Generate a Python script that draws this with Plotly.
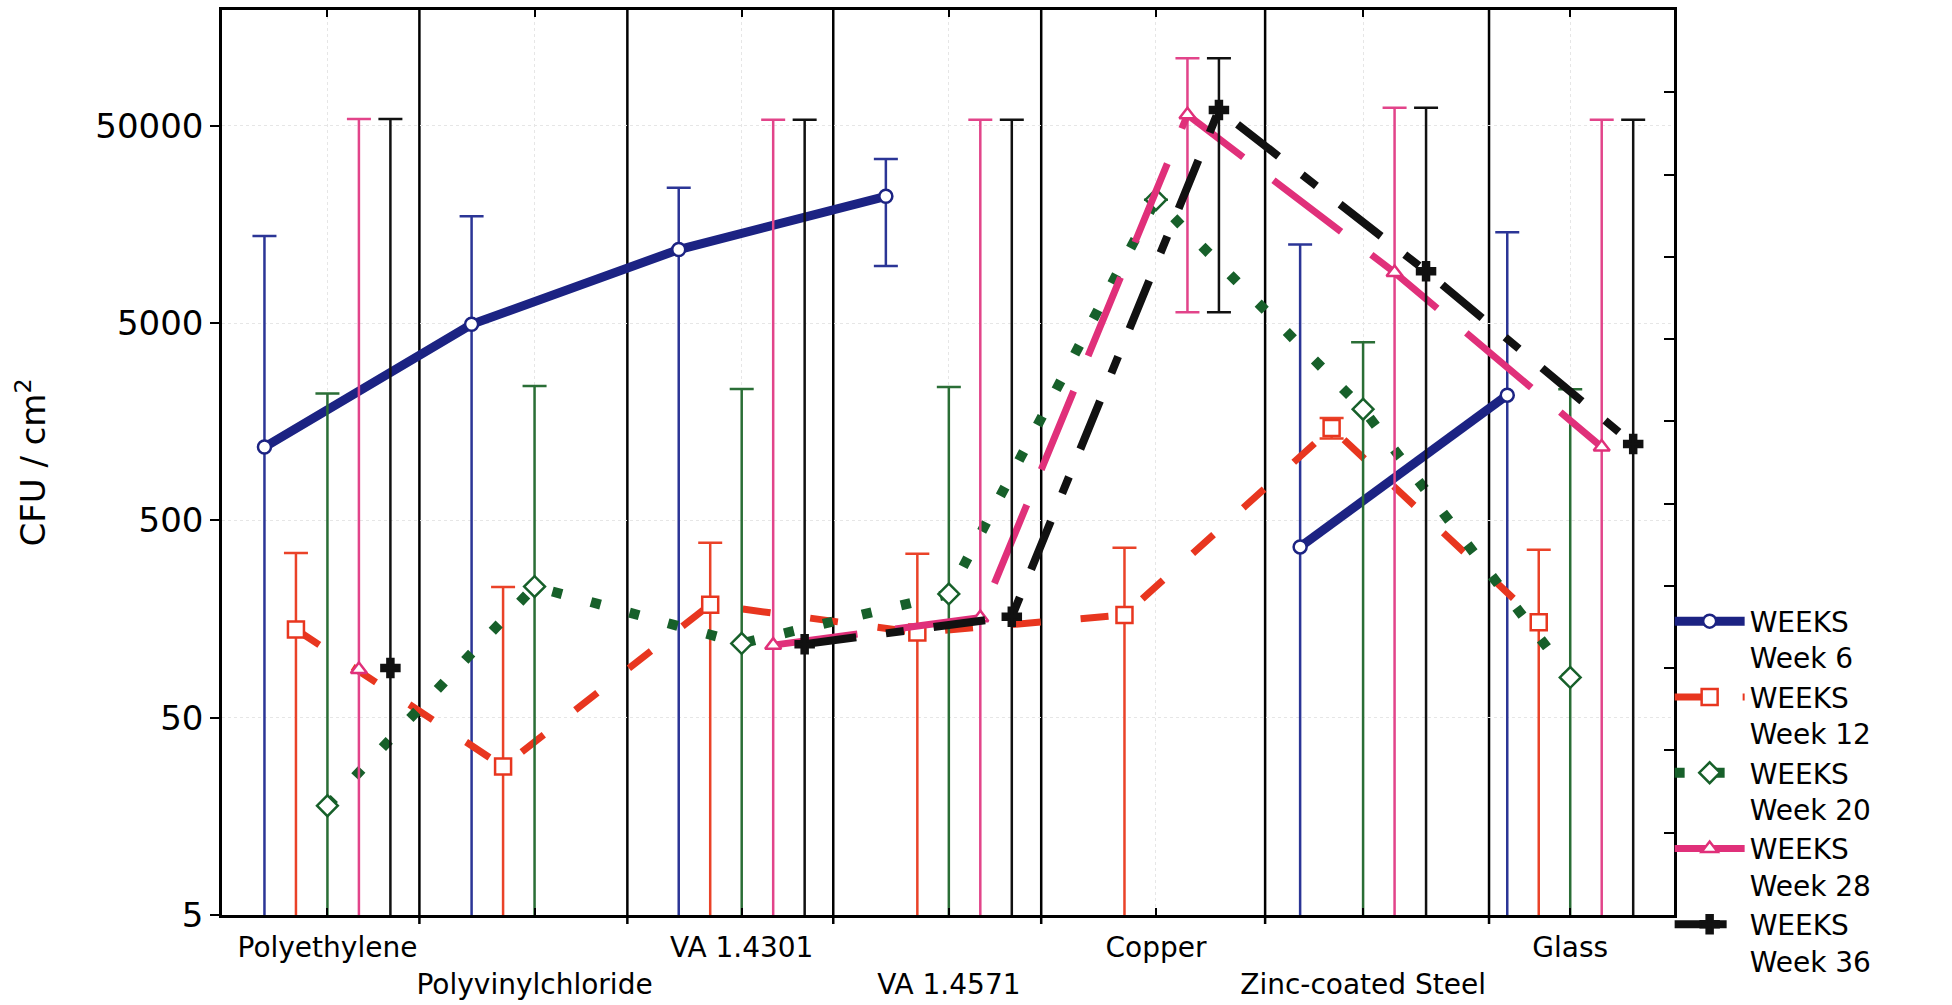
import plotly.graph_objects as go

# ---------------- data ----------------
CATEGORIES = ["Polyethylene", "Polyvinylchloride", "VA 1.4301", "VA 1.4571",
              "Copper", "Zinc-coated Steel", "Glass"]
SERIES_NAMES = ["WEEKS<br>Week 6", "WEEKS<br>Week 12", "WEEKS<br>Week 20",
                "WEEKS<br>Week 28", "WEEKS<br>Week 36"]

week6 = [1177, 4930, 11800, 21970, None, 367, 2157]
week6_hi = [13800, 17400, 24300, 33950, None, 12500, 14420]
week6_lo = [1, 1, 1, 9750, None, 1, 1]

week12 = [140, 28.3, 187, 135, 166, 1468, 152.5]
week12_hi = [342, 230, 385, 339, 363, 1650, 355]
week12_lo = [1, 1, 1, 1, 1, 1300, 1]

week20 = [17.9, 231, 119, 212, 21100, 1830, 80]
week20_hi = [2200, 2400, 2320, 2370, None, 4000, 2310]
week20_lo = [1, 1, 1, 1, None, 1, 1]

week28 = [87.7, None, 116.6, 160.7, 56900, 9030, 1177]
week28_hi = [54200, None, 53600, 53600, 110000, 61700, 53600]
week28_lo = [1, None, 1, 1, 5670, 1, 1]

week36 = [89.2, None, 118, 162.5, 60200, 9160, 1219]
week36_hi = [54200, None, 53600, 53600, 110000, 61700, 53600]
week36_lo = [1, None, 1, 1, 5670, 1, 1]

Y_TICKS = [5, 50, 500, 5000, 50000]
Y_TICK_LABELS = ["5", "50", "500", "5000", "50000"]
SEPARATORS = [0.444, 1.448, 2.442, 3.446, 4.527, 5.608]

# ---------------- styles ----------------
FONT = "DejaVu Sans, Liberation Sans, sans-serif"
series = [
    dict(v=week6, hi=week6_hi, lo=week6_lo, color="#1c2383", ecolor="#2b3596",
         dash="solid", width=9, symbol="circle", msize=13, fill="white", off=-0.304),
    dict(v=week12, hi=week12_hi, lo=week12_lo, color="#e8361f", ecolor="#ea4228",
         dash="28px,40px", width=7, symbol="square", msize=16, fill="white", off=-0.152),
    dict(v=week20, hi=week20_hi, lo=week20_lo, color="#17602a", ecolor="#2a6e36",
         dash="10px,30px", width=10, symbol="diamond", msize=16, fill="white", off=0.0),
    dict(v=week28, hi=week28_hi, lo=week28_lo, color="#e0307a", ecolor="#e2448a",
         dash="85px,38px", width=7, symbol="triangle-up", msize=14, fill="white", off=0.152),
    dict(v=week36, hi=week36_hi, lo=week36_lo, color="#111111", ecolor="#111111",
         dash="52px,30px,18px,30px", width=8, symbol="cross", msize=15, fill="#111111", off=0.304),
]

fig = go.Figure()

for name, s in zip(SERIES_NAMES, series):
    xs = [i + s["off"] for i in range(len(CATEGORIES))]
    plus = [None if (v is None or h is None) else h - v for v, h in zip(s["v"], s["hi"])]
    minus = [None if (v is None or l is None) else v - l for v, l in zip(s["v"], s["lo"])]
    fig.add_trace(go.Scatter(
        x=xs, y=s["v"], name=name, mode="lines+markers",
        line=dict(color=s["color"], width=s["width"], dash=s["dash"]),
        marker=dict(symbol=s["symbol"], size=s["msize"], color=s["fill"],
                    line=dict(color=s["color"], width=2.5)),
        error_y=dict(type="data", symmetric=False, array=plus, arrayminus=minus,
                     color=s["ecolor"], thickness=2.5, width=12),
        connectgaps=False,
    ))

# dummy trace so the right-hand tick axis is drawn
fig.add_trace(go.Scatter(x=[None], y=[None], yaxis="y2", showlegend=False,
                         hoverinfo="skip"))

for sx in SEPARATORS:
    fig.add_shape(type="line", xref="x", yref="paper", x0=sx, x1=sx, y0=-0.01, y1=1,
                  line=dict(color="black", width=2.5), layer="below")

fig.update_layout(
    width=1952, height=1005,
    margin=dict(l=222, r=278, t=10, b=90),
    paper_bgcolor="white", plot_bgcolor="white",
    font=dict(family=FONT, size=27, color="black"),
    showlegend=True,
    legend=dict(x=0.997, xanchor="left", y=0.352, yanchor="top",
                itemwidth=70, valign="top", font=dict(size=28),
                bgcolor="rgba(0,0,0,0)", tracegroupgap=0),
    xaxis=dict(
        range=[-0.509, 6.501], tickmode="array",
        tickvals=list(range(len(CATEGORIES))),
        ticktext=[c if i % 2 == 0 else "\u00a0<br>" + c for i, c in enumerate(CATEGORIES)],
        tickangle=0, automargin=False,
        ticks="inside", ticklen=7, tickwidth=2, tickcolor="black",
        showline=True, linecolor="black", linewidth=2.5, mirror="ticks",
        showgrid=True, gridcolor="#e6e6e6", griddash="dot", gridwidth=1,
        zeroline=False, ticklabelstandoff=6,
        tickfont=dict(size=28),
    ),
    yaxis=dict(
        type="log", range=[0.69897, 5.286], automargin=False,
        tickmode="array", tickvals=Y_TICKS, ticktext=Y_TICK_LABELS,
        ticks="outside", ticklen=9, tickwidth=2, tickcolor="black",
        showline=True, linecolor="black", linewidth=2.5,
        showgrid=True, gridcolor="#e6e6e6", griddash="dot", gridwidth=1,
        zeroline=False, tickfont=dict(size=34),
        title=dict(text="CFU / cm<sup>2</sup>", font=dict(size=34), standoff=40),
    ),
    yaxis2=dict(
        overlaying="y", side="right", range=[0, 11.0], automargin=False,
        tickmode="array", tickvals=list(range(1, 11)),
        ticks="inside", ticklen=10, tickwidth=2, tickcolor="black",
        showticklabels=False, showline=True, linecolor="black", linewidth=2.5,
        showgrid=False, zeroline=False,
    ),
)

fig.write_html("out.html")
